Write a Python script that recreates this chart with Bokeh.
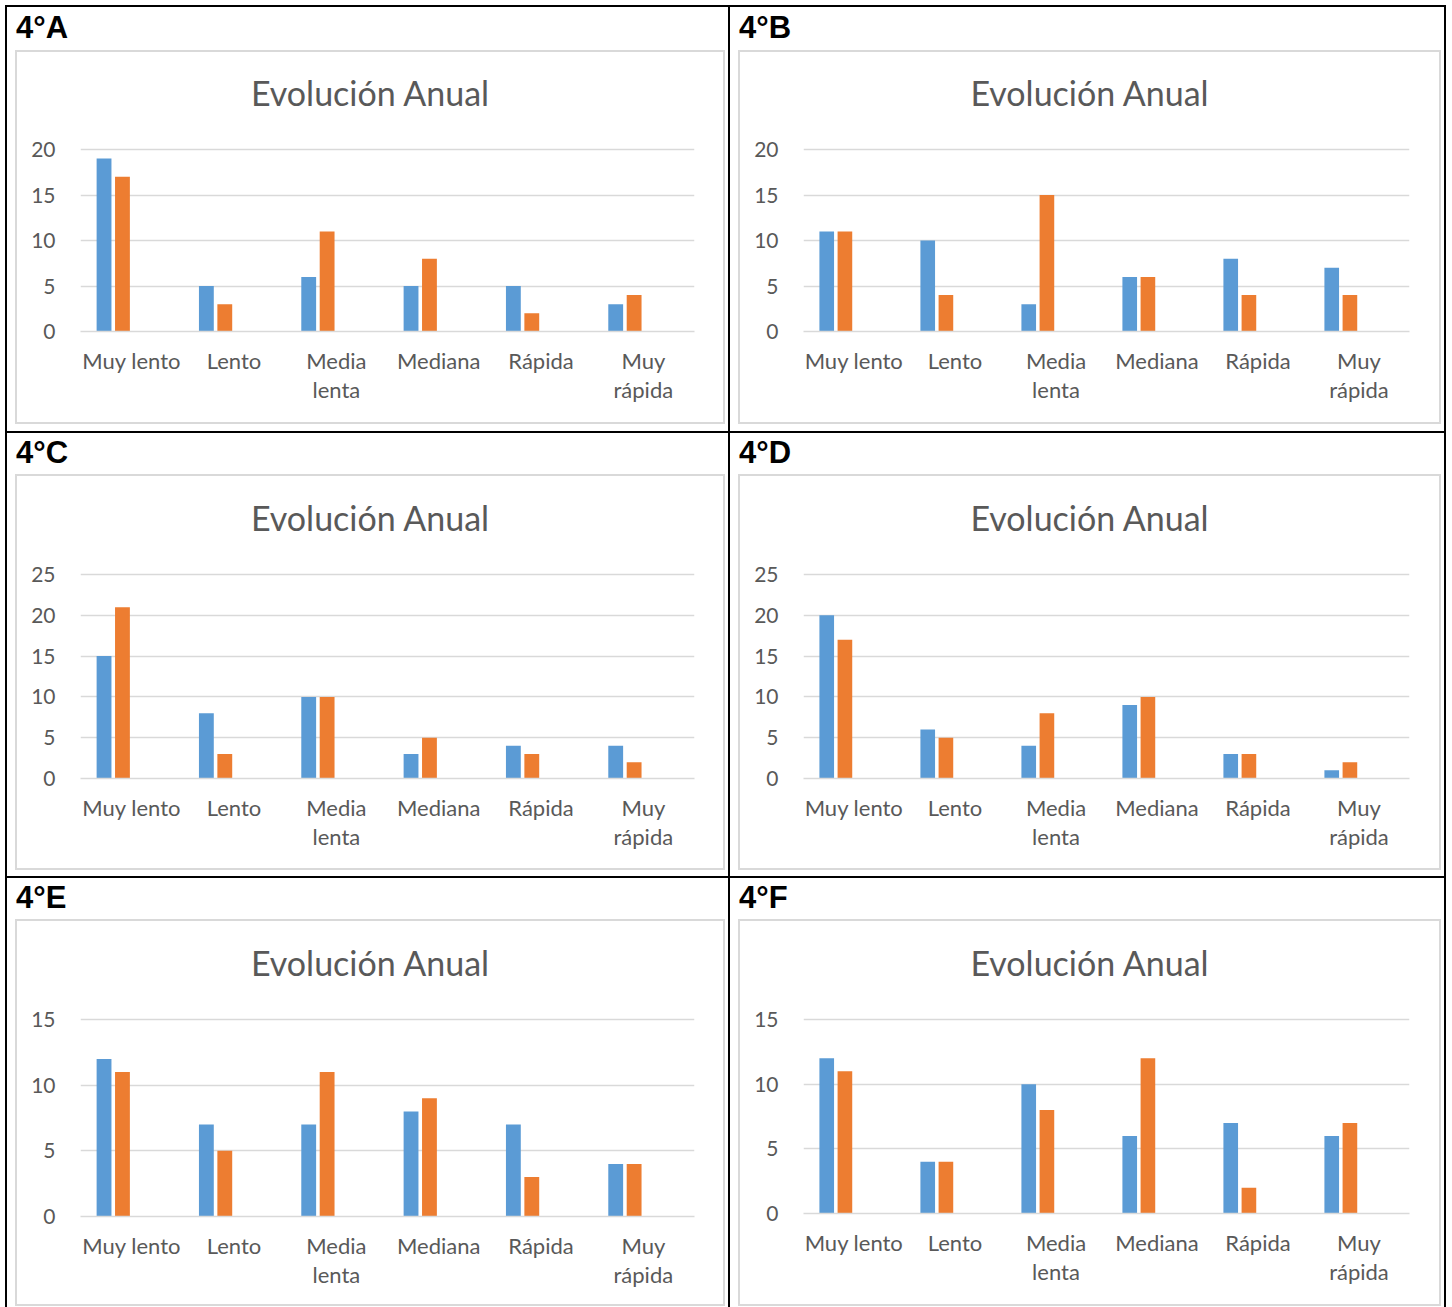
import numpy as np
from bokeh.plotting import figure
from bokeh.models import Range1d, FixedTicker, Div
from bokeh.layouts import row, column
from bokeh.embed import file_html
from bokeh.resources import INLINE

# ---------------- data ----------------
categories = ["Muy lento", "Lento", "Media\nlenta", "Mediana", "Rápida", "Muy\nrápida"]
panel_names = ["4°A", "4°B", "4°C", "4°D", "4°E", "4°F"]
chart_title = "Evolución Anual"

serie1_A = [19, 5, 6, 5, 5, 3]
serie2_A = [17, 3, 11, 8, 2, 4]
serie1_B = [11, 10, 3, 6, 8, 7]
serie2_B = [11, 4, 15, 6, 4, 4]
serie1_C = [15, 8, 10, 3, 4, 4]
serie2_C = [21, 3, 10, 5, 3, 2]
serie1_D = [20, 6, 4, 9, 3, 1]
serie2_D = [17, 5, 8, 10, 3, 2]
serie1_E = [12, 7, 7, 8, 7, 4]
serie2_E = [11, 5, 11, 9, 3, 4]
serie1_F = [12, 4, 10, 6, 7, 6]
serie2_F = [11, 4, 8, 12, 2, 7]

axis_max = [20, 20, 25, 25, 15, 15]
axis_step = 5

series1 = [serie1_A, serie1_B, serie1_C, serie1_D, serie1_E, serie1_F]
series2 = [serie2_A, serie2_B, serie2_C, serie2_D, serie2_E, serie2_F]

# ---------------- styles / geometry ----------------
BLUE = "#5B9BD5"
ORANGE = "#ED7D31"
TEXT = "#595959"
GRID = "#D9D9D9"
FONT = "Lato"
BL = 2  # black rule width

col_w = [721, 714]           # cell interior widths
row_h = [424, 443, 429]      # cell interior heights
row_top = [7, 433, 878]      # absolute y of cell interiors

# per row: label height, label line-height, gray box outer height, title div height/line-height,
#          gridline top / bottom (abs y) per column
row_cfg = [
    dict(lab_h=43, lab_lh=42, box_h=374, title_h=64, title_lh=82, gt=[149, 149], gb=[331, 331]),
    dict(lab_h=41, lab_lh=40, box_h=396, title_h=64, title_lh=84, gt=[574, 574], gb=[778, 778]),
    dict(lab_h=41, lab_lh=40, box_h=387, title_h=64, title_lh=84, gt=[1019, 1019], gb=[1216, 1213]),
]
box_w = [710, 703]           # gray box outer widths
box_inset = 8
frame_left_in = 63           # frame left from gray box inner left
frame_right_in = [29, 30]    # frame right margin inside gray box
PAD_TOP = 3

OFF1, OFF2, BAR_W = -0.27, -0.09, 0.145


def blank(w, h, color=None):
    st = {"background-color": color} if color else {}
    return Div(text="", width=int(w), height=int(h), margin=0, styles=st)


def make_fig(i, r, c, fig_w, fig_h, fig_top_abs):
    cfg = row_cfg[r]
    gt, gb = cfg["gt"][c], cfg["gb"][c]
    ymax = axis_max[i]
    ncat = len(categories)
    ppu = (gb - gt) / ymax
    y_end = ymax + PAD_TOP / ppu

    p = figure(width=fig_w, height=fig_h, output_backend="svg", toolbar_location=None,
               x_range=Range1d(0, ncat), y_range=Range1d(0, y_end),
               min_border_left=frame_left_in, min_border_right=frame_right_in[c],
               min_border_top=int(round(gt - PAD_TOP - fig_top_abs)),
               min_border_bottom=int(round(fig_top_abs + fig_h - gb)), margin=0)
    p.outline_line_color = None
    p.background_fill_color = "white"
    p.border_fill_color = "white"

    idx = np.arange(ncat) + 0.5
    p.vbar(x=idx + OFF1, top=series1[i], bottom=0, width=BAR_W, fill_color=BLUE, line_color=None)
    p.vbar(x=idx + OFF2, top=series2[i], bottom=0, width=BAR_W, fill_color=ORANGE, line_color=None)

    p.xaxis.ticker = FixedTicker(ticks=list(idx))
    p.xaxis.major_label_overrides = {float(t): lab for t, lab in zip(idx, categories)}
    p.xaxis.axis_line_color = GRID
    p.xaxis.axis_line_width = 1.5
    p.xaxis.major_tick_line_color = None
    p.xaxis.minor_tick_line_color = None
    p.xaxis.major_label_text_color = TEXT
    p.xaxis.major_label_text_font = FONT
    p.xaxis.major_label_text_font_size = "22px"
    p.xaxis.major_label_text_line_height = 1.11
    p.xaxis.major_label_standoff = 9

    p.yaxis.ticker = FixedTicker(ticks=list(range(0, ymax + 1, axis_step)))
    p.yaxis.axis_line_color = None
    p.yaxis.major_tick_line_color = None
    p.yaxis.minor_tick_line_color = None
    p.yaxis.major_label_text_color = TEXT
    p.yaxis.major_label_text_font = FONT
    p.yaxis.major_label_text_font_size = "21px"
    p.yaxis.major_label_standoff = 19

    p.xgrid.grid_line_color = None
    p.ygrid.grid_line_color = GRID
    p.ygrid.grid_line_width = 1.5
    return p


def make_cell(i, r, c):
    cfg = row_cfg[r]
    cw, ch = col_w[c], row_h[r]
    bw, bh = box_w[c], cfg["box_h"]
    iw, ih = bw - 4, bh - 4
    label = Div(text=panel_names[i], width=cw, height=cfg["lab_h"], margin=0,
                styles={"font-family": "Liberation Sans, Arial, sans-serif", "font-weight": "bold",
                        "font-size": "31px", "line-height": f"{cfg['lab_lh']}px",
                        "text-indent": "9px", "color": "black", "white-space": "nowrap"})
    title = Div(text=chart_title, width=iw, height=cfg["title_h"], margin=0,
                styles={"font-family": FONT, "font-size": "34px", "color": TEXT,
                        "text-align": "center", "line-height": f"{cfg['title_lh']}px",
                        "white-space": "nowrap"})
    inner_top_abs = row_top[r] + cfg["lab_h"] + 2
    fig_top_abs = inner_top_abs + cfg["title_h"]
    fig_h = ih - cfg["title_h"]
    fig = make_fig(i, r, c, iw, fig_h, fig_top_abs)
    inner = column(blank(iw, 2, GRID), title, fig, blank(iw, 2, GRID), spacing=0)
    box = row(blank(2, bh, GRID), inner, blank(2, bh, GRID), spacing=0)
    box_row = row(blank(box_inset, bh), box, blank(cw - box_inset - bw, bh), spacing=0)
    return column(label, box_row, blank(cw, ch - cfg["lab_h"] - bh), spacing=0)


total_w = 5 + BL + col_w[0] + BL + col_w[1] + BL + 6
rows = [blank(total_w, 5)]
k = 0
for r in range(3):
    rows.append(row(blank(5, BL), blank(total_w - 11, BL, "black"), blank(6, BL), spacing=0))
    h = row_h[r]
    cells = [make_cell(k, r, 0), make_cell(k + 1, r, 1)]
    k += 2
    rows.append(row(blank(5, h), blank(BL, h, "black"), cells[0], blank(BL, h, "black"),
                    cells[1], blank(BL, h, "black"), blank(6, h), spacing=0))

layout = column(*rows, spacing=0, styles={"background-color": "white"})

open("out.html", "w").write(file_html(layout, INLINE))
